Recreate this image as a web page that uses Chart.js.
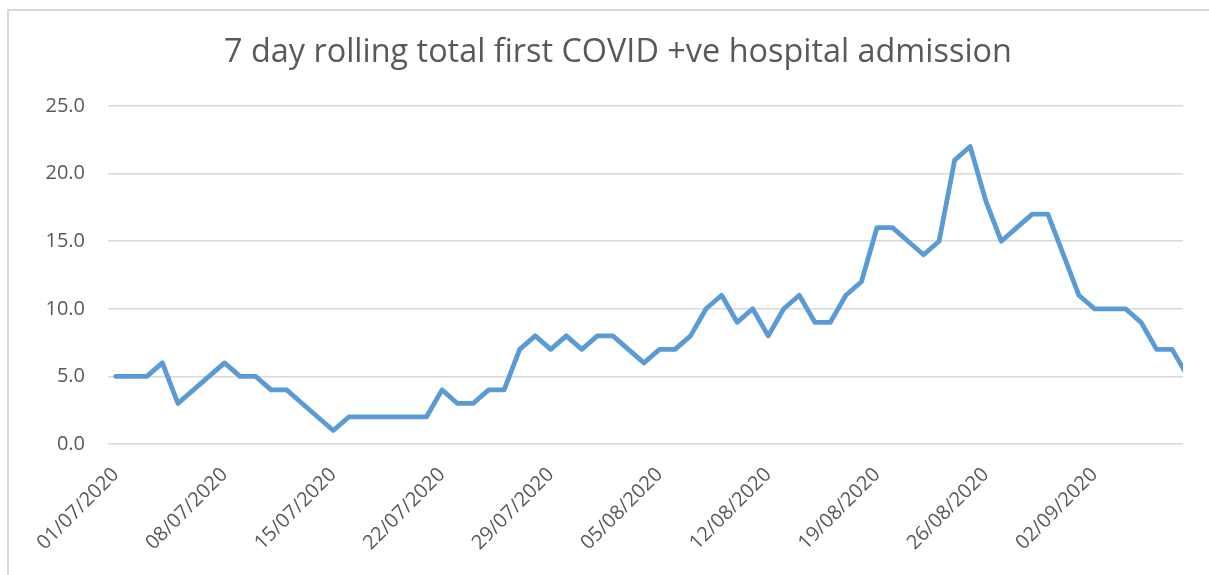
<!DOCTYPE html>
<html>
<head>
<meta charset="utf-8">
<script src="https://cdn.jsdelivr.net/npm/chart.js@4/dist/chart.umd.min.js"></script>
<style>
  html, body { margin: 0; padding: 0; background: #ffffff; }
  #wrap { position: relative; width: 1209px; height: 575px; }
</style>
</head>
<body>
<div id="wrap"><canvas id="c" width="1209" height="575"></canvas></div>
<script>
const chartTitle = "7 day rolling total first COVID +ve hospital admission";

const dates = [
  "01/07/2020","02/07/2020","03/07/2020","04/07/2020","05/07/2020","06/07/2020","07/07/2020",
  "08/07/2020","09/07/2020","10/07/2020","11/07/2020","12/07/2020","13/07/2020","14/07/2020",
  "15/07/2020","16/07/2020","17/07/2020","18/07/2020","19/07/2020","20/07/2020","21/07/2020",
  "22/07/2020","23/07/2020","24/07/2020","25/07/2020","26/07/2020","27/07/2020","28/07/2020",
  "29/07/2020","30/07/2020","31/07/2020","01/08/2020","02/08/2020","03/08/2020","04/08/2020",
  "05/08/2020","06/08/2020","07/08/2020","08/08/2020","09/08/2020","10/08/2020","11/08/2020",
  "12/08/2020","13/08/2020","14/08/2020","15/08/2020","16/08/2020","17/08/2020","18/08/2020",
  "19/08/2020","20/08/2020","21/08/2020","22/08/2020","23/08/2020","24/08/2020","25/08/2020",
  "26/08/2020","27/08/2020","28/08/2020","29/08/2020","30/08/2020","31/08/2020","01/09/2020",
  "02/09/2020","03/09/2020","04/09/2020","05/09/2020","06/09/2020","07/09/2020","08/09/2020"
];

const admissions = [
  5, 5, 5, 6, 3, 4, 5,
  6, 5, 5, 4, 4, 3, 2,
  1, 2, 2, 2, 2, 2, 2,
  4, 3, 3, 4, 4, 7, 8,
  7, 8, 7, 8, 8, 7, 6,
  7, 7, 8, 10, 11, 9, 10,
  8, 10, 11, 9, 9, 11, 12,
  16, 16, 15, 14, 15, 21, 22,
  18, 15, 16, 17, 17, 14, 11,
  10, 10, 10, 9, 7, 7, 5
];

const xTickLabels = ["01/07/2020","08/07/2020","15/07/2020","22/07/2020","29/07/2020",
  "05/08/2020","12/08/2020","19/08/2020","26/08/2020","02/09/2020"];

const yTickValues = [0, 5, 10, 15, 20, 25];

const points = admissions.map((v, i) => ({ x: i, y: v }));

const frameAndTitle = {
  id: 'frameAndTitle',
  beforeDraw(chart) {
    const ctx = chart.ctx;
    ctx.save();
    ctx.strokeStyle = '#d9d9d9';
    ctx.lineWidth = 2;
    ctx.strokeRect(8, 10, 1400, 800);
    ctx.restore();
  },
  afterDraw(chart) {
    const ctx = chart.ctx;
    ctx.save();
    ctx.fillStyle = '#595959';
    ctx.font = '32.4px "Open Sans"';
    ctx.textAlign = 'center';
    ctx.textBaseline = 'middle';
    ctx.fillText(chartTitle, 618, 53);
    ctx.restore();
  }
};

new Chart(document.getElementById('c'), {
  type: 'line',
  data: {
    datasets: [{
      data: points,
      borderColor: '#5b9bd5',
      borderWidth: 4.8,
      pointRadius: 0,
      tension: 0,
      fill: false,
      borderJoinStyle: 'round',
      borderCapStyle: 'round',
      clip: 0
    }]
  },
  options: {
    responsive: false,
    animation: false,
    events: [],
    layout: { padding: { top: 106, right: 26, left: 0, bottom: 0 } },
    plugins: { legend: { display: false }, title: { display: false }, tooltip: { enabled: false } },
    scales: {
      x: {
        type: 'linear',
        min: -0.5,
        max: 68.7,
        afterBuildTicks(scale) {
          scale.ticks = xTickLabels.map(l => ({ value: dates.indexOf(l) }));
        },
        afterFit(scale) { scale.height = 131; },
        grid: { display: false, drawTicks: false },
        border: { display: false },
        ticks: {
          autoSkip: false,
          maxRotation: 45,
          minRotation: 45,
          padding: 19,
          color: '#595959',
          font: { family: '"Open Sans"', size: 20 },
          callback: (v) => dates[v]
        }
      },
      y: {
        min: 0,
        max: 25,
        afterBuildTicks(scale) {
          scale.ticks = yTickValues.map(v => ({ value: v }));
        },
        afterFit(scale) { scale.width = 108; },
        grid: { color: '#d9d9d9', lineWidth: 1.5, drawTicks: false },
        border: { display: false },
        ticks: {
          padding: 23,
          color: '#595959',
          font: { family: '"Open Sans"', size: 20 },
          callback: (v) => v.toFixed(1)
        }
      }
    }
  },
  plugins: [frameAndTitle]
});
</script>
</body>
</html>
